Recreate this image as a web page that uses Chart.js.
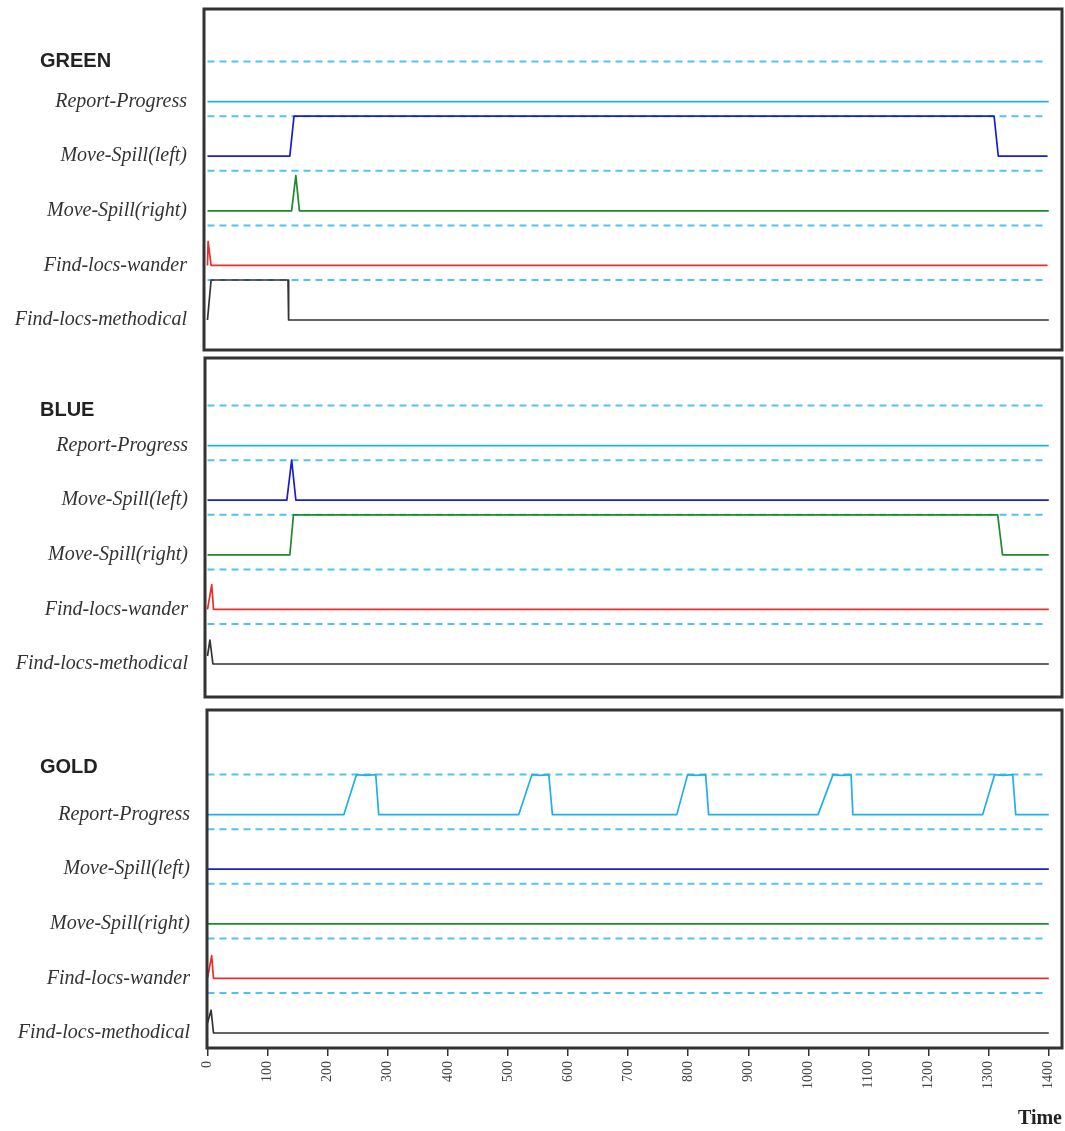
<!DOCTYPE html>
<html>
<head>
<meta charset="utf-8">
<script src="https://cdn.jsdelivr.net/npm/chart.js@4.4.1/dist/chart.umd.min.js"></script>
<style>
  html, body { margin: 0; padding: 0; background: #fff; }
  body { width: 1065px; height: 1131px; position: relative; overflow: hidden; }
  canvas { position: absolute; left: 0; }
</style>
</head>
<body>
<canvas id="green" width="1065" height="356" style="top:0px"></canvas>
<canvas id="blue" width="1065" height="350" style="top:356px"></canvas>
<canvas id="gold" width="1065" height="425" style="top:706px"></canvas>
<script>
// Behaviour lanes, top to bottom
const behaviours = ['Report-Progress', 'Move-Spill(left)', 'Move-Spill(right)', 'Find-locs-wander', 'Find-locs-methodical'];
const timeTicks = [0, 100, 200, 300, 400, 500, 600, 700, 800, 900, 1000, 1100, 1200, 1300, 1400];

// Activation level of each behaviour over time: [time, level]
// GREEN robot
const greenReportProgress = [[0, 0], [1400, 0]];
const greenSpillLeft = [[0, 0], [137, 0], [144, 1], [1309, 1], [1316, 0], [1398, 0]];
const greenSpillRight = [[0, 0], [140, 0], [147, 0.88], [153, 0], [1400, 0]];
const greenWander = [[0, 0], [1, 0.6], [6, 0], [1398, 0]];
const greenMethodical = [[0, 0], [6, 1], [134, 1], [135, 0], [1400, 0]];

// BLUE robot
const blueReportProgress = [[0, 0], [1400, 0]];
const blueSpillLeft = [[0, 0], [132, 0], [140, 1], [147, 0], [1400, 0]];
const blueSpillRight = [[0, 0], [137, 0], [143, 1], [1315, 1], [1323, 0], [1400, 0]];
const blueWander = [[0, 0], [7, 0.62], [10, 0], [1400, 0]];
const blueMethodical = [[0, 0.2], [4, 0.6], [9, 0], [1400, 0]];

// GOLD robot
const goldReportProgress = [
  [0, 0], [227, 0], [248, 1], [263, 0.98], [280, 1], [285, 0],
  [518, 0], [540, 1], [553, 0.98], [568, 1], [574, 0],
  [781, 0], [799, 1], [813, 0.98], [829, 1], [834, 0],
  [1016, 0], [1041, 1], [1055, 0.98], [1071, 1], [1074, 0],
  [1290, 0], [1310, 1], [1324, 0.98], [1340, 1], [1345, 0], [1400, 0]
];
const goldSpillLeft = [[0, 0], [1400, 0]];
const goldSpillRight = [[0, 0], [1400, 0]];
const goldWander = [[0, 0], [7, 0.57], [10, 0], [1400, 0]];
const goldMethodical = [[0, 0.25], [6, 0.57], [10, 0], [1400, 0]];

// Styling
const laneColors = ['#1fb0ea', '#1c1cd2', '#1d8b2c', '#e8302c', '#333333'];
const LANE_STEP = 1.365;          // vertical distance between lane baselines (in level units)
const GUIDE_END = 1393;           // dashed lane-top guides run to this time
const SERIF = '"Liberation Serif", "Times New Roman", serif';
const SANS = '"Liberation Sans", Arial, sans-serif';

const laneBase = i => (behaviours.length - 1 - i) * LANE_STEP;

// Draws the panel frame and its robot name
const panelFrame = {
  id: 'panelFrame',
  afterDraw(chart, args, opts) {
    const { ctx, chartArea: a } = chart;
    ctx.save();
    ctx.strokeStyle = '#333';
    ctx.lineWidth = 3;
    ctx.strokeRect(a.left, a.top, a.right - a.left, a.bottom - a.top);
    ctx.fillStyle = '#222';
    ctx.font = 'bold 20px ' + SANS;
    ctx.textAlign = 'left';
    ctx.textBaseline = 'middle';
    ctx.fillText(opts.title, 40, a.top + opts.titleOffset);
    ctx.restore();
  }
};

// Keep axis labels from pushing the plot area inwards
const noEdgePadding = s => {
  s.paddingTop = 0; s.paddingBottom = 0; s.paddingLeft = 0; s.paddingRight = 0;
};

function makePanel(id, title, series, cfg) {
  const datasets = [];
  series.forEach((pts, i) => {
    datasets.push({
      data: pts.map(([t, v]) => ({ x: t, y: laneBase(i) + v })),
      borderColor: laneColors[i],
      borderWidth: 1.7,
      pointRadius: 0,
      tension: 0,
      borderJoinStyle: 'round',
      order: 0
    });
  });
  behaviours.forEach((b, i) => {
    datasets.push({
      data: [{ x: 0, y: laneBase(i) + 1 }, { x: GUIDE_END, y: laneBase(i) + 1 }],
      borderColor: '#4fc4f3',
      borderWidth: 2,
      borderDash: [7, 5],
      pointRadius: 0,
      order: 1
    });
  });

  return new Chart(document.getElementById(id), {
    type: 'line',
    data: { datasets },
    plugins: [panelFrame],
    options: {
      responsive: false,
      animation: false,
      devicePixelRatio: 1,
      layout: { padding: { left: 0, right: 3, top: cfg.padTop, bottom: cfg.padBottom } },
      plugins: {
        legend: { display: false },
        tooltip: { enabled: false },
        panelFrame: { title, titleOffset: cfg.titleOffset }
      },
      scales: {
        x: {
          type: 'linear',
          min: cfg.xMin,
          max: 1422,
          display: cfg.showTime,
          afterBuildTicks: s => { s.ticks = timeTicks.map(v => ({ value: v })); },
          afterFit: s => { if (cfg.showTime) s.height = cfg.axisHeight; noEdgePadding(s); },
          grid: { display: true, drawOnChartArea: false, drawTicks: true, tickLength: 8, color: '#333', lineWidth: 1.5 },
          border: { display: false },
          ticks: {
            autoSkip: false,
            minRotation: 90,
            maxRotation: 90,
            padding: 5,
            color: '#444',
            font: { family: SERIF, size: 14 },
            callback: v => String(v)
          },
          title: {
            display: cfg.showTime,
            text: 'Time',
            align: 'end',
            color: '#222',
            font: { family: SERIF, size: 20, weight: 'bold' },
            padding: { top: 0, bottom: 0 }
          }
        },
        y: {
          type: 'linear',
          position: 'left',
          min: cfg.yMin,
          max: cfg.yMax,
          afterFit: s => { s.width = cfg.axisWidth; noEdgePadding(s); },
          afterBuildTicks: s => {
            s.ticks = behaviours.map((b, i) => ({ value: laneBase(i) })).reverse();
          },
          grid: { display: false, drawTicks: false },
          border: { display: false },
          ticks: {
            autoSkip: false,
            padding: 17,
            color: '#333',
            font: { family: SERIF, size: 20, style: 'italic' },
            callback: (value, index) => behaviours[behaviours.length - 1 - index]
          }
        }
      }
    }
  });
}

makePanel('green', 'GREEN',
  [greenReportProgress, greenSpillLeft, greenSpillRight, greenWander, greenMethodical],
  { padTop: 9, padBottom: 6, axisWidth: 204, xMin: -5.8, yMin: -0.75, yMax: 7.775, showTime: false, titleOffset: 52 });

makePanel('blue', 'BLUE',
  [blueReportProgress, blueSpillLeft, blueSpillRight, blueWander, blueMethodical],
  { padTop: 2, padBottom: 9, axisWidth: 205, xMin: -4.2, yMin: -0.825, yMax: 7.65, showTime: false, titleOffset: 52 });

makePanel('gold', 'GOLD',
  [goldReportProgress, goldSpillLeft, goldSpillRight, goldWander, goldMethodical],
  { padTop: 4, padBottom: 0, axisWidth: 207, axisHeight: 83, xMin: -0.8, yMin: -0.375, yMax: 8.075, showTime: true, titleOffset: 57 });
</script>
</body>
</html>
